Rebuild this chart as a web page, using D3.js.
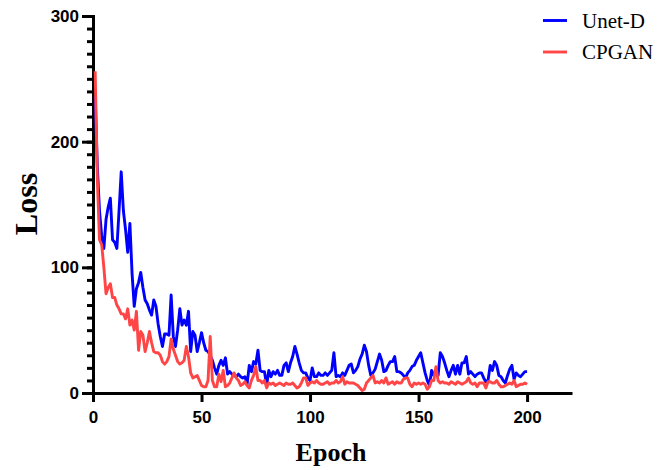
<!DOCTYPE html>
<html>
<head>
<meta charset="utf-8">
<script src="https://cdn.jsdelivr.net/npm/d3@7"></script>
<style>
  body { margin: 0; background: #fff; }
  .tick text { font-family: "Liberation Sans", Arial, sans-serif; font-weight: bold; font-size: 17px; fill: #000; }
  .axis path, .axis line { stroke: #000; stroke-width: 3px; }
</style>
</head>
<body>
<div class="grafico"></div>
<script>
// Loss values per epoch (1..200)
var unetD = [
  236,180,145,125,115,138,148,155,122,120,
  115,145,176,145,130,112,135,95,69,83,
  88,96,84,74,71,66,62,74,69,55,
  45,37,47,47,46,78,45,37,50,67,
  54,58,54,65,33,49,46,33,40,48,
  40,34,33,30,26,20,15,22,26,22,
  28,15,17,15,14,13,15,13,12,13,
  7,22,17,25,23,34,18,17,17,6,
  18,13,17,15,18,14,14,22,24,17,
  24,29,37,31,24,18,16,16,12,10,
  20,13,13,16,14,14,16,14,16,18,
  32,13,14,13,16,14,18,22,23,16,
  18,21,27,31,38,33,22,14,16,19,
  25,31,26,17,18,22,25,25,29,17,
  17,16,14,12,16,18,21,22,26,29,
  32,24,16,10,6,18,14,18,14,32,
  29,24,18,13,18,22,15,22,15,24,
  24,29,15,17,15,13,15,16,16,12,
  9,10,22,18,25,22,14,13,10,8,
  14,19,22,11,16,14,13,15,17,17
];
var cpgan = [
  256,170,122,118,100,79,84,87,76,76,
  70,67,63,63,59,67,54,58,50,65,
  34,49,46,33,40,49,40,33,32,32,
  30,25,23,25,29,43,35,30,25,23,
  24,26,37,29,16,12,13,14,10,6,
  5,5,10,45,10,5,5,15,9,18,
  5,6,8,12,16,12,10,6,7,9,
  6,4,10,14,21,10,10,8,10,4,
  8,7,8,6,7,8,7,6,8,7,
  7,8,6,4,5,8,12,12,6,8,
  9,8,10,8,7,7,8,9,7,8,
  8,10,8,9,13,7,9,8,8,8,
  7,6,4,2,3,8,10,12,14,8,
  9,8,10,8,12,7,8,9,7,9,
  8,8,11,12,12,7,5,8,7,8,
  7,8,7,3,5,10,10,21,10,8,
  9,8,8,7,9,8,7,9,8,7,
  8,9,12,8,7,8,5,8,8,8,
  4,9,9,8,8,10,7,5,5,6,
  7,8,7,10,5,6,7,7,8,7
];
var seriesNames = ["Unet-D", "CPGAN"];
var seriesColors = ["#0000ff", "#ff4545"];
var xTicks = [0, 50, 100, 150, 200];
var yTicks = [0, 100, 200, 300];

var width = 671, height = 470;

var svg = d3.select(".grafico")
  .append("svg")
  .attr("width", width)
  .attr("height", height);

var x = d3.scaleLinear().domain([0, 220]).range([93, 570.5]),
  y = d3.scaleLinear().domain([0, 300]).range([393, 16]);

// minor ticks on y every 10
svg.append("g")
  .attr("class", "axis")
  .attr("transform", "translate(" + x(0) + ",0)")
  .call(d3.axisLeft(y).tickValues(d3.range(0, 301, 10)).tickSize(6).tickSizeOuter(0).tickFormat(""));

svg.append("g")
  .attr("class", "axis axis--y")
  .attr("transform", "translate(" + x(0) + ",0)")
  .call(d3.axisLeft(y).tickValues(yTicks).tickSize(11).tickSizeOuter(0).tickPadding(3));

svg.append("g")
  .attr("class", "axis axis--x")
  .attr("transform", "translate(0," + y(0) + ")")
  .call(d3.axisBottom(x).tickValues(xTicks).tickSize(9).tickSizeOuter(0).tickPadding(9));

svg.selectAll(".axis path").attr("stroke-linecap", "square");

var line = d3.line()
  .x((d, i) => x(i + 1))
  .y(d => y(d));

[unetD, cpgan].forEach((s, k) => {
  svg.append("path")
    .datum(s)
    .attr("fill", "none")
    .attr("stroke", seriesColors[k])
    .attr("stroke-width", 2.9)
    .attr("stroke-linejoin", "round")
    .attr("d", line);
});

// axis titles
svg.append("text")
  .attr("x", 331)
  .attr("y", 461)
  .attr("text-anchor", "middle")
  .style("font-family", "'Liberation Serif', 'Times New Roman', serif")
  .style("font-weight", "bold")
  .style("font-size", "26px")
  .text("Epoch");

svg.append("text")
  .attr("transform", "translate(37,204) rotate(-90)")
  .attr("text-anchor", "middle")
  .style("font-family", "'Liberation Serif', 'Times New Roman', serif")
  .style("font-weight", "bold")
  .style("font-size", "32px")
  .text("Loss");

// legend
seriesNames.forEach((n, k) => {
  var ly = 20.5 + k * 31.5;
  svg.append("line")
    .attr("x1", 543).attr("x2", 567)
    .attr("y1", ly).attr("y2", ly)
    .attr("stroke", seriesColors[k])
    .attr("stroke-width", 2.9);
  svg.append("text")
    .attr("x", 582)
    .attr("y", ly + 7)
    .style("font-family", "'Liberation Serif', 'Times New Roman', serif")
    .style("font-size", "21px")
    .text(n);
});
</script>
</body>
</html>
